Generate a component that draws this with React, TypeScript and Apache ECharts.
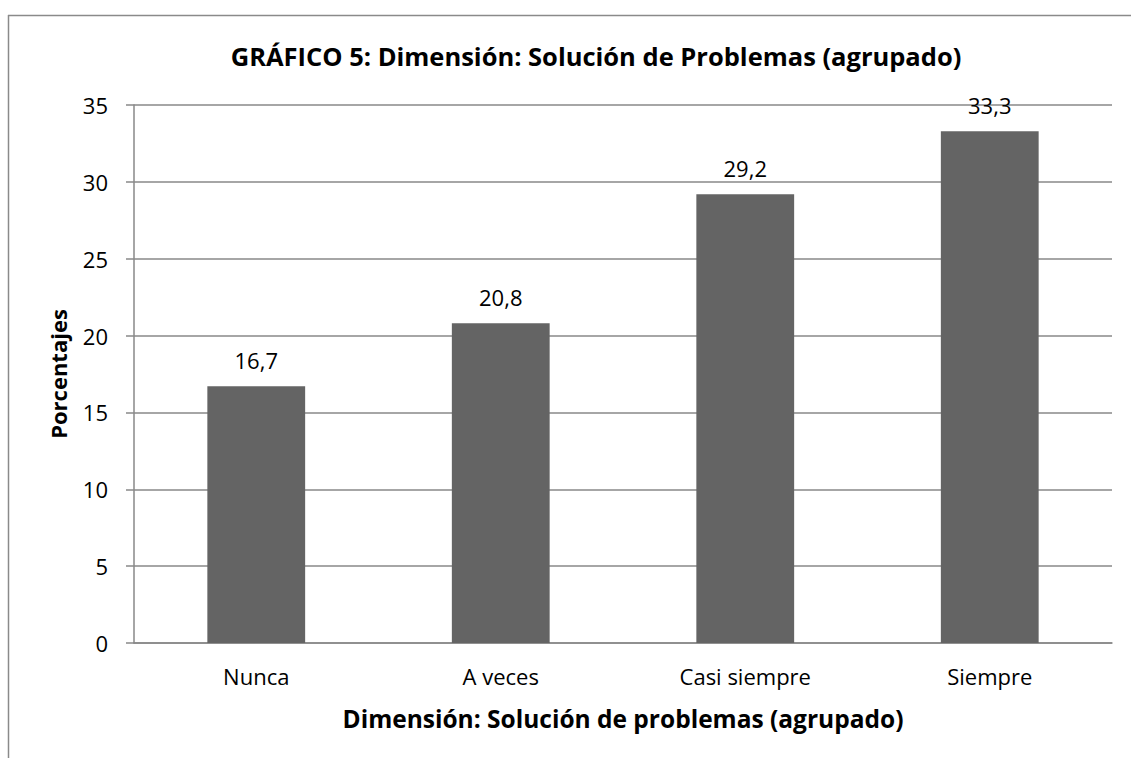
import React, { useEffect, useRef } from "react";
import * as echarts from "echarts";

const categories = ["Nunca", "A veces", "Casi siempre", "Siempre"];
const values = [16.7, 20.8, 29.2, 33.3];
const yTicks = { min: 0, max: 35, interval: 5 };

const FONT = "'Open Sans', 'Noto Sans', sans-serif";

export default function App() {
  const ref = useRef<HTMLDivElement>(null);
  useEffect(() => {
    const chart = echarts.init(ref.current!, null, { renderer: "svg" });
    chart.setOption({
      animation: false,
      backgroundColor: "#ffffff",
      title: {
        text: "GRÁFICO 5: Dimensión: Solución de Problemas (agrupado)",
        left: 591,
        top: 38,
        textAlign: "center",
        textStyle: { fontFamily: FONT, fontWeight: "bold", fontSize: 25.5, color: "#000" },
      },
      graphic: [
        { type: "line", shape: { x1: 8, y1: 15.5, x2: 1131, y2: 15.5 }, style: { stroke: "#8a8a8a", lineWidth: 1.5 } },
        { type: "line", shape: { x1: 8.5, y1: 15, x2: 8.5, y2: 758 }, style: { stroke: "#8a8a8a", lineWidth: 1.5 } },
      ],
      grid: { left: 134, right: 19, top: 105, bottom: 115 },
      xAxis: {
        type: "category",
        data: categories,
        name: "Dimensión: Solución de problemas (agrupado)",
        nameLocation: "middle",
        nameGap: 63,
        nameTextStyle: { fontFamily: FONT, fontWeight: "bold", fontSize: 24.5, color: "#000" },
        axisLine: { show: true, lineStyle: { color: "#888", width: 1.5 } },
        axisTick: { show: false },
        axisLabel: { fontFamily: FONT, fontSize: 22, color: "#000", margin: 22 },
      },
      yAxis: {
        type: "value",
        min: yTicks.min,
        max: yTicks.max,
        interval: yTicks.interval,
        name: "Porcentajes",
        nameLocation: "middle",
        nameGap: 65,
        nameTextStyle: { fontFamily: FONT, fontWeight: "bold", fontSize: 22, color: "#000" },
        axisLine: { show: true, lineStyle: { color: "#888", width: 1.5 } },
        axisTick: { show: true, inside: false, length: 8, lineStyle: { color: "#888", width: 1.5 } },
        splitLine: { show: true, lineStyle: { color: "#888", width: 1.5 } },
        axisLabel: { fontFamily: FONT, fontSize: 22, color: "#000", margin: 26 },
      },
      series: [
        {
          type: "bar",
          data: values,
          barWidth: "40%",
          itemStyle: { color: "#646464" },
          label: {
            show: true,
            position: "top",
            distance: 15,
            fontFamily: FONT,
            fontSize: 22,
            color: "#000",
            formatter: (p: any) => String(p.value).replace(".", ","),
          },
        },
      ],
    });
    return () => chart.dispose();
  }, []);
  return <div ref={ref} style={{ position: "fixed", left: 0, top: 0, width: 1131, height: 758 }} />;
}
